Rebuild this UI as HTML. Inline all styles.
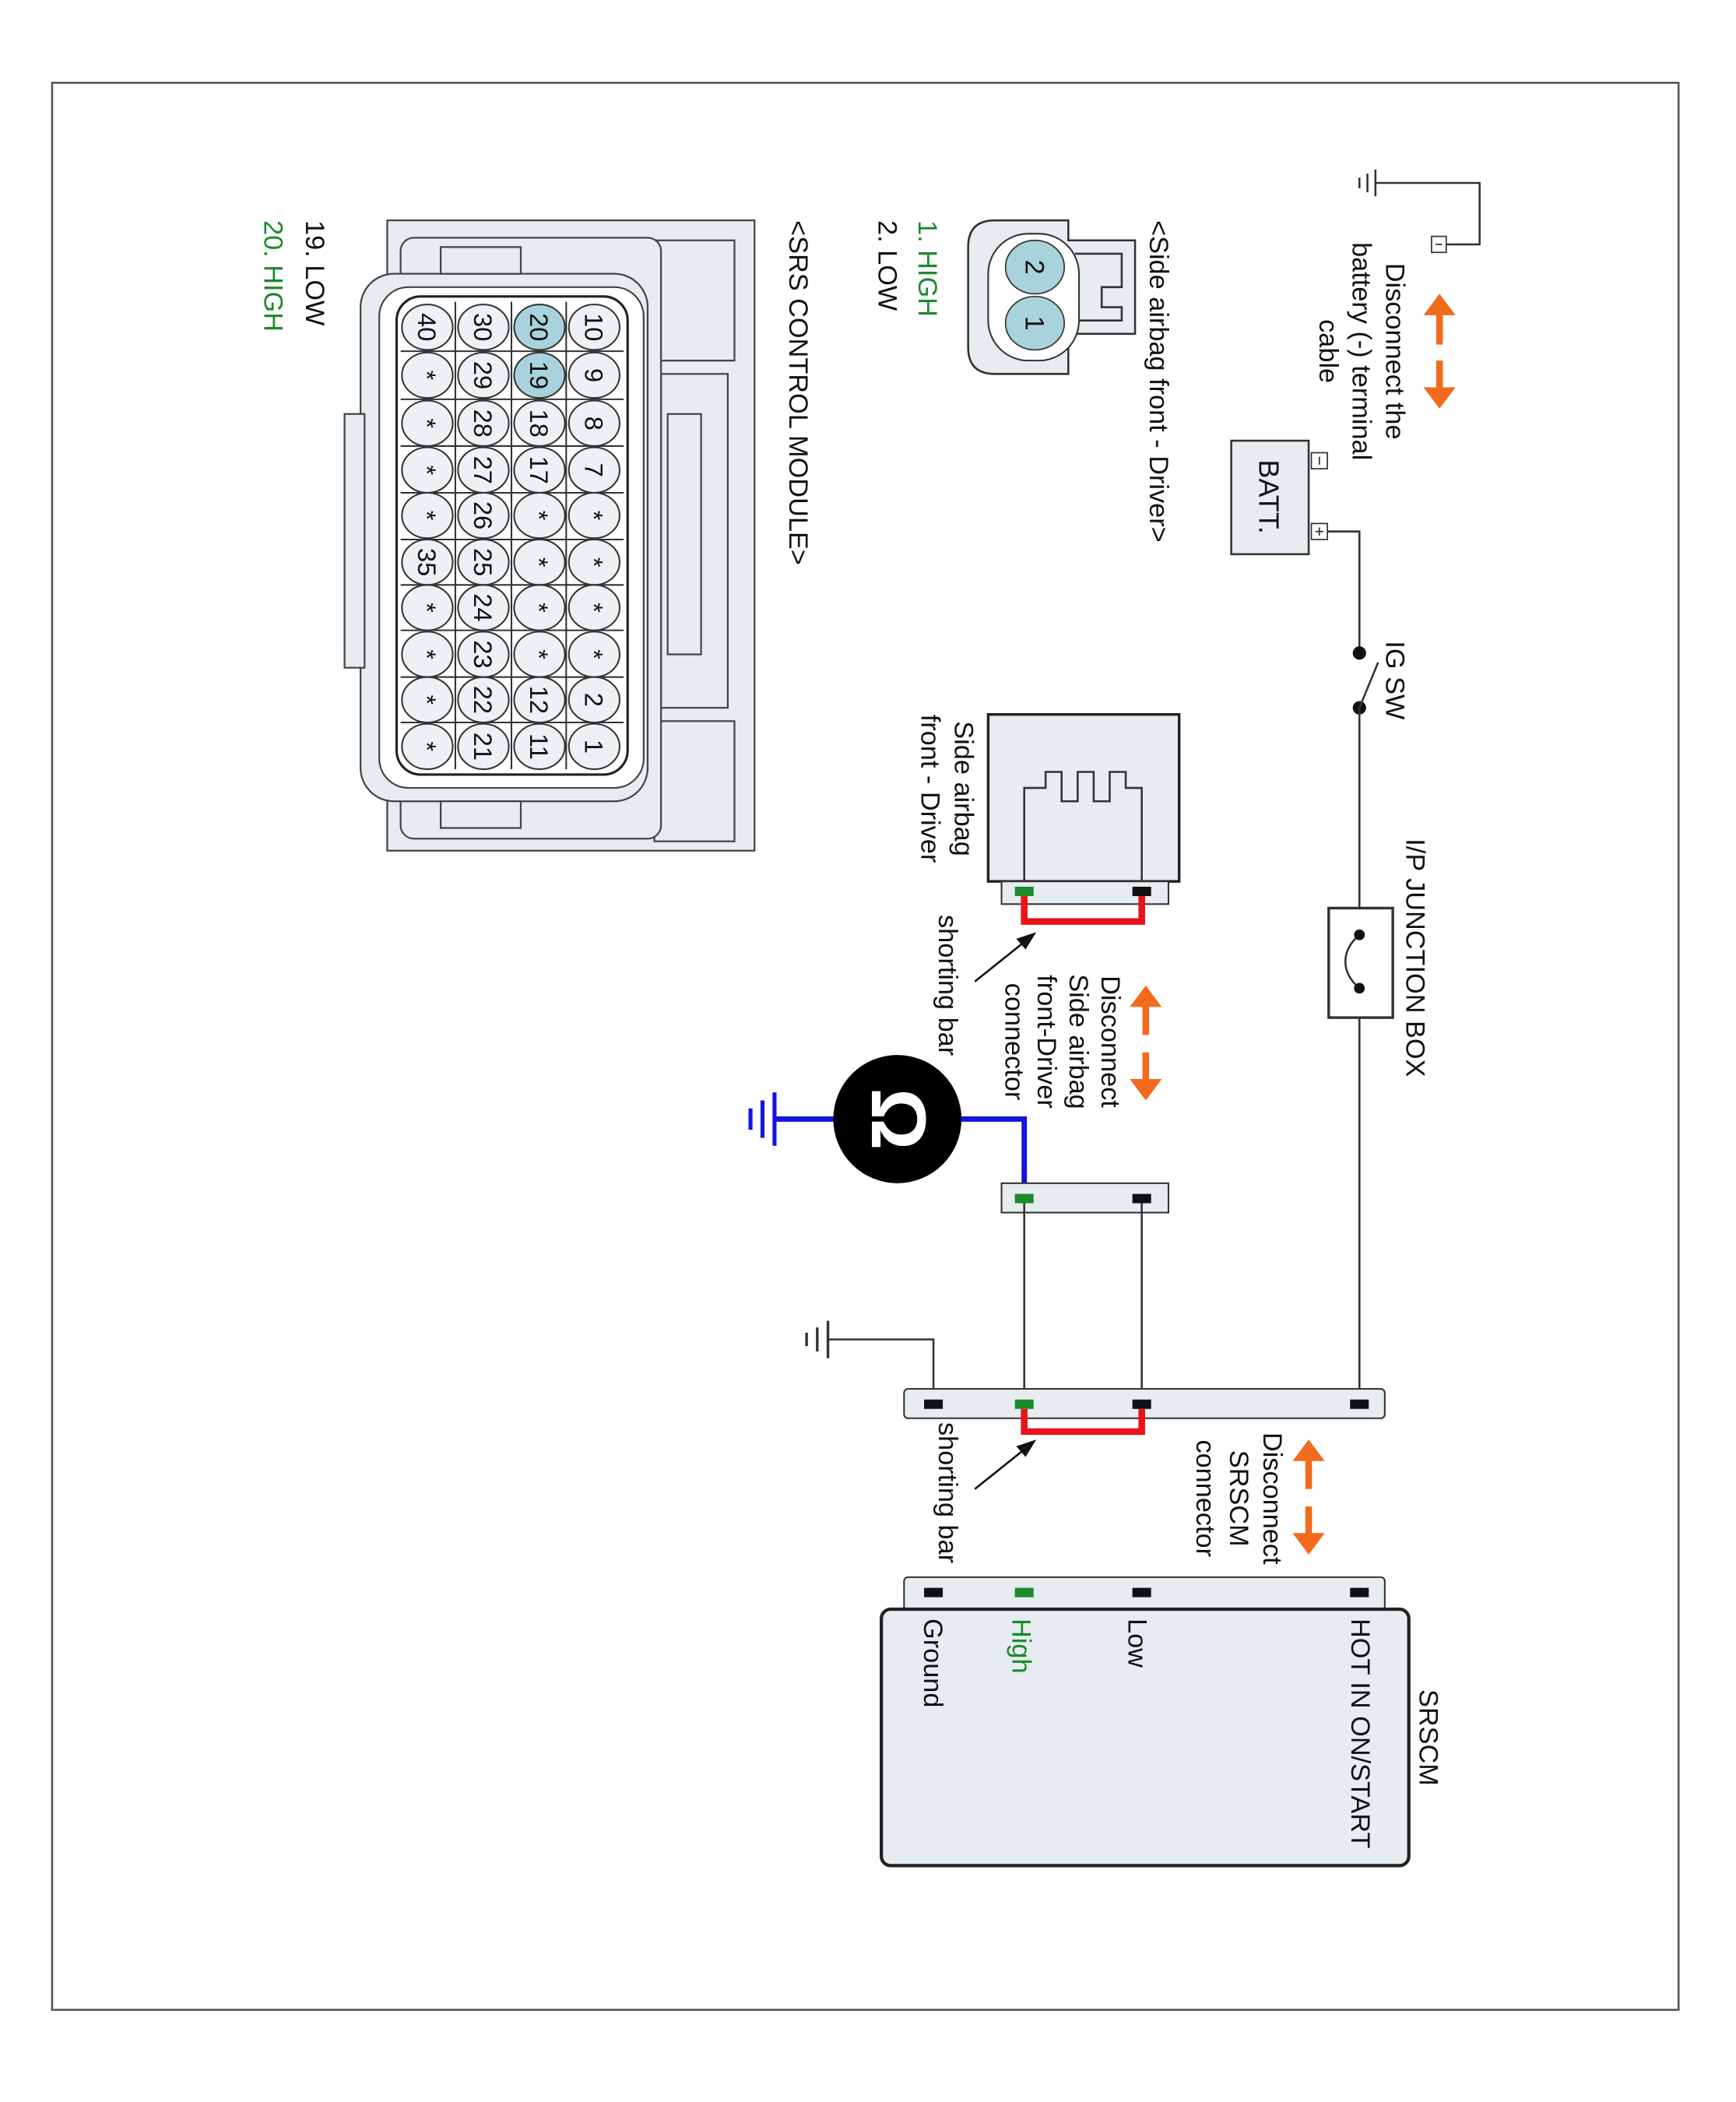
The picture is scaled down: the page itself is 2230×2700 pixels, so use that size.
<!DOCTYPE html>
<html><head><meta charset="utf-8"><style>html,body{margin:0;padding:0;background:#fff}svg{display:block}</style></head>
<body>
<svg width="2230" height="2700" viewBox="0 0 1300 1574" xmlns="http://www.w3.org/2000/svg" font-family="Liberation Sans, sans-serif">
<rect x="39" y="62" width="1218" height="1443" fill="#fff" stroke="#555" stroke-width="1.5"/>
<g font-size="20" fill="#111">
<!-- battery cable -->
<polyline points="1030,137 1108,137 1108,183 1083,183" fill="none" stroke="#333" stroke-width="1.5"/>
<rect x="1072" y="177" width="11" height="12" fill="#fff" stroke="#333"/>
<line x1="1075" y1="183" x2="1080" y2="183" stroke="#333"/>
<g stroke="#333" stroke-width="1.5"><line x1="1030" y1="127" x2="1030" y2="147"/><line x1="1024" y1="130" x2="1024" y2="144"/><line x1="1018" y1="133" x2="1018" y2="141"/></g>
<text transform="translate(1038,263) rotate(90)" text-anchor="middle">Disconnect the</text>
<text transform="translate(1013,263) rotate(90)" text-anchor="middle">battery (-) terminal</text>
<text transform="translate(988,263) rotate(90)" text-anchor="middle">cable</text>
<!-- orange arrows -->
<g fill="#f26a1b" stroke="#f26a1b" stroke-width="5">
<line x1="1078" y1="232" x2="1078" y2="258"/><polygon stroke="none" points="1066,236 1090,236 1078,220"/>
<line x1="1078" y1="270" x2="1078" y2="294"/><polygon stroke="none" points="1066,290 1090,290 1078,306"/>
<line x1="980" y1="1090" x2="980" y2="1115"/><polygon stroke="none" points="968,1094 992,1094 980,1078"/>
<line x1="980" y1="1128" x2="980" y2="1152"/><polygon stroke="none" points="968,1148 992,1148 980,1164"/>
<line x1="858" y1="750" x2="858" y2="775"/><polygon stroke="none" points="846,754 870,754 858,738"/>
<line x1="858" y1="788" x2="858" y2="812"/><polygon stroke="none" points="846,808 870,808 858,824"/>
</g>
<!-- battery -->
<rect x="922" y="330" width="58" height="85" fill="#e6ecef" stroke="#333" stroke-width="1.5"/>
<text transform="translate(943,372) rotate(90)" text-anchor="middle" font-size="21">BATT.</text>
<rect x="982" y="339" width="12" height="12" fill="#fff" stroke="#333"/><line x1="988" y1="342" x2="988" y2="348" stroke="#333"/>
<rect x="982" y="392" width="12" height="12" fill="#fff" stroke="#333"/><line x1="985" y1="398" x2="991" y2="398" stroke="#333"/><line x1="988" y1="395" x2="988" y2="401" stroke="#333"/>
<polyline points="994,398 1018,398 1018,489" fill="none" stroke="#333" stroke-width="1.5"/>
<!-- IG SW -->
<circle cx="1018" cy="489" r="5" fill="#111"/><circle cx="1018" cy="530" r="5" fill="#111"/>
<line x1="1018" y1="530" x2="1032" y2="496" stroke="#333" stroke-width="1.5"/>
<text transform="translate(1038,480) rotate(90)">IG SW</text>
<line x1="1018" y1="530" x2="1018" y2="1051" stroke="#333" stroke-width="1.5"/>
<!-- fuse -->
<rect x="995" y="680" width="48" height="82" fill="#fff" stroke="#333" stroke-width="2"/>
<path d="M1018,700 C1004,712 1004,728 1018,740" fill="none" stroke="#333" stroke-width="1.5"/>
<circle cx="1018" cy="700" r="4" fill="#111"/><circle cx="1018" cy="740" r="4" fill="#111"/>
<text transform="translate(1053,628) rotate(90)">I/P JUNCTION BOX</text>
<!-- side airbag connector -->
<rect x="740" y="535" width="143" height="125" fill="#e6ecef" stroke="#222" stroke-width="2"/>
<polyline points="767,660 767,590 783,590 783,578 795,578 795,600 807,600 807,578 819,578 819,600 831,600 831,578 843,578 843,590 855,590 855,660" fill="none" stroke="#333" stroke-width="1.5"/>
<rect x="750" y="660" width="125" height="17" fill="#e6ecef" stroke="#333" stroke-width="1.2"/>
<rect x="760" y="664" width="14" height="7" fill="#1a8a2a"/><rect x="848" y="664" width="14" height="7" fill="#111"/>
<polyline points="767,671 767,690 855,690 855,671" fill="none" stroke="#e8141a" stroke-width="5"/>
<text transform="translate(715,540) rotate(90)">Side airbag</text>
<text transform="translate(690,535) rotate(90)">front - Driver</text>
<text transform="translate(703,685) rotate(90)">shorting bar</text>
<line x1="730" y1="735" x2="770" y2="703" stroke="#111" stroke-width="1.5"/><polygon points="776,698 761,703 768,711" fill="#111"/>
<text transform="translate(825,780) rotate(90)" text-anchor="middle">Disconnect</text>
<text transform="translate(801,780) rotate(90)" text-anchor="middle">Side airbag</text>
<text transform="translate(777,780) rotate(90)" text-anchor="middle">front-Driver</text>
<text transform="translate(753,780) rotate(90)" text-anchor="middle">connector</text>
<!-- ohmmeter -->
<polyline points="767,897 767,838 710,838" fill="none" stroke="#1414e0" stroke-width="4"/>
<line x1="630" y1="838" x2="580" y2="838" stroke="#1414e0" stroke-width="4"/>
<g stroke="#1414e0" stroke-width="3"><line x1="580" y1="818" x2="580" y2="858"/><line x1="571" y1="824" x2="571" y2="852"/><line x1="562" y1="830" x2="562" y2="846"/></g>
<circle cx="672" cy="838" r="48" fill="#000"/>
<text transform="translate(653,838) rotate(90)" text-anchor="middle" fill="#fff" font-size="58" font-weight="bold">Ω</text>
<!-- small connector -->
<rect x="750" y="886" width="125" height="22" fill="#e6ecef" stroke="#333" stroke-width="1.2"/>
<rect x="760" y="894" width="14" height="7" fill="#1a8a2a"/><rect x="848" y="894" width="14" height="7" fill="#111"/>
<line x1="767" y1="901" x2="767" y2="1051" stroke="#333" stroke-width="1.5"/>
<line x1="855" y1="901" x2="855" y2="1051" stroke="#333" stroke-width="1.5"/>
<!-- ground wire -->
<polyline points="699,1051 699,1003 620,1003" fill="none" stroke="#333" stroke-width="1.5"/>
<g stroke="#333" stroke-width="2"><line x1="620" y1="989" x2="620" y2="1017"/><line x1="612" y1="994" x2="612" y2="1012"/><line x1="604" y1="998" x2="604" y2="1008"/></g>
<!-- mid connector -->
<rect x="677" y="1040" width="360" height="22" rx="3" fill="#e6ecef" stroke="#333" stroke-width="1.2"/>
<rect x="692" y="1048" width="14" height="7" fill="#111"/><rect x="760" y="1048" width="14" height="7" fill="#1a8a2a"/><rect x="848" y="1048" width="14" height="7" fill="#111"/><rect x="1011" y="1048" width="14" height="7" fill="#111"/>
<polyline points="767,1055 767,1072 855,1072 855,1055" fill="none" stroke="#e8141a" stroke-width="5"/>
<text transform="translate(703,1065) rotate(90)">shorting bar</text>
<line x1="730" y1="1115" x2="770" y2="1083" stroke="#111" stroke-width="1.5"/><polygon points="776,1078 761,1083 768,1091" fill="#111"/>
<text transform="translate(946,1122) rotate(90)" text-anchor="middle">Disconnect</text>
<text transform="translate(921,1122) rotate(90)" text-anchor="middle">SRSCM</text>
<text transform="translate(896,1122) rotate(90)" text-anchor="middle">connector</text>
<!-- SRSCM -->
<rect x="677" y="1181" width="360" height="26" rx="3" fill="#e6ecef" stroke="#333" stroke-width="1.2"/>
<rect x="692" y="1189" width="14" height="7" fill="#111"/><rect x="760" y="1189" width="14" height="7" fill="#1a8a2a"/><rect x="848" y="1189" width="14" height="7" fill="#111"/><rect x="1011" y="1189" width="14" height="7" fill="#111"/>
<rect x="660" y="1205" width="395" height="192" rx="7" fill="#e6ecef" stroke="#222" stroke-width="2.5"/>
<text transform="translate(1012,1212) rotate(90)">HOT IN ON/START</text>
<text transform="translate(845,1212) rotate(90)">Low</text>
<text transform="translate(758,1212) rotate(90)" fill="#1a8a2a">High</text>
<text transform="translate(692,1212) rotate(90)">Ground</text>
<text transform="translate(1063,1265) rotate(90)">SRSCM</text>
<!-- side airbag legend -->
<text transform="translate(861,165) rotate(90)">&lt;Side airbag front - Driver&gt;</text>
<text transform="translate(688,165) rotate(90)" fill="#1a8a2a">1. HIGH</text>
<text transform="translate(658,165) rotate(90)">2. LOW</text>
<path d="M745,165 L800,165 L800,180 L850,180 L850,250 L800,250 L800,280 L745,280 Q725,280 725,260 L725,185 Q725,165 745,165 Z" fill="#e6ecef" stroke="#333" stroke-width="1.5"/>
<polyline points="805,190 840,190 840,215 825,215 825,230 840,230 840,240 805,240" fill="none" stroke="#333" stroke-width="1.5"/>
<rect x="740" y="175" width="68" height="95" rx="30" fill="#fff" stroke="#333" stroke-width="1.2"/>
<ellipse cx="775" cy="200" rx="22" ry="20" fill="#a9d3dc" stroke="#333"/>
<ellipse cx="775" cy="242" rx="22" ry="20" fill="#a9d3dc" stroke="#333"/>
<text transform="translate(768,200) rotate(90)" text-anchor="middle">2</text>
<text transform="translate(768,242) rotate(90)" text-anchor="middle">1</text>
<!-- SRS control module -->
<text transform="translate(591,165) rotate(90)">&lt;SRS CONTROL MODULE&gt;</text>
<text transform="translate(229,165) rotate(90)">19. LOW</text>
<text transform="translate(198,165) rotate(90)" fill="#1a8a2a">20. HIGH</text>
<g fill="#e6ecef" stroke="#444" stroke-width="1.3">
<rect x="290" y="165" width="275" height="472" fill="#e6ecef"/>
<rect x="490" y="180" width="60" height="90"/><rect x="490" y="540" width="60" height="90"/>
<rect x="495" y="280" width="50" height="250"/><rect x="500" y="310" width="25" height="180"/>
<rect x="300" y="178" width="195" height="450" rx="10" fill="#e6ecef"/>
<rect x="270" y="205" width="215" height="395" rx="25" fill="#e6ecef"/>
<rect x="258" y="310" width="15" height="190"/>
<rect x="330" y="185" width="60" height="20"/><rect x="330" y="600" width="60" height="20"/>
<rect x="284" y="215" width="198" height="375" rx="22" fill="#fff"/>
<rect x="297" y="222" width="173" height="358" rx="18" fill="#fff" stroke="#222" stroke-width="1.8"/>
</g>
<g stroke="#333" stroke-width="1.2">
<line x1="424" y1="226" x2="424" y2="576"/><line x1="383" y1="226" x2="383" y2="576"/><line x1="341" y1="226" x2="341" y2="576"/>
<line x1="300" y1="263" x2="467" y2="263"/><line x1="300" y1="299" x2="467" y2="299"/><line x1="300" y1="334" x2="467" y2="334"/><line x1="300" y1="369" x2="467" y2="369"/><line x1="300" y1="404" x2="467" y2="404"/><line x1="300" y1="438" x2="467" y2="438"/><line x1="300" y1="472" x2="467" y2="472"/><line x1="300" y1="507" x2="467" y2="507"/><line x1="300" y1="541" x2="467" y2="541"/>
</g>
<g stroke="#333" stroke-width="1.2" fill="#eef1f3">
<ellipse cx="445" cy="245" rx="19" ry="17"/><ellipse cx="445" cy="281" rx="19" ry="17"/><ellipse cx="445" cy="317" rx="19" ry="17"/><ellipse cx="445" cy="352" rx="19" ry="17"/><ellipse cx="445" cy="386" rx="19" ry="17"/><ellipse cx="445" cy="421" rx="19" ry="17"/><ellipse cx="445" cy="455" rx="19" ry="17"/><ellipse cx="445" cy="490" rx="19" ry="17"/><ellipse cx="445" cy="524" rx="19" ry="17"/><ellipse cx="445" cy="559" rx="19" ry="17"/>
<ellipse cx="404" cy="245" rx="19" ry="17" fill="#a9d3dc"/><ellipse cx="404" cy="281" rx="19" ry="17" fill="#a9d3dc"/><ellipse cx="404" cy="317" rx="19" ry="17"/><ellipse cx="404" cy="352" rx="19" ry="17"/><ellipse cx="404" cy="386" rx="19" ry="17"/><ellipse cx="404" cy="421" rx="19" ry="17"/><ellipse cx="404" cy="455" rx="19" ry="17"/><ellipse cx="404" cy="490" rx="19" ry="17"/><ellipse cx="404" cy="524" rx="19" ry="17"/><ellipse cx="404" cy="559" rx="19" ry="17"/>
<ellipse cx="362" cy="245" rx="19" ry="17"/><ellipse cx="362" cy="281" rx="19" ry="17"/><ellipse cx="362" cy="317" rx="19" ry="17"/><ellipse cx="362" cy="352" rx="19" ry="17"/><ellipse cx="362" cy="386" rx="19" ry="17"/><ellipse cx="362" cy="421" rx="19" ry="17"/><ellipse cx="362" cy="455" rx="19" ry="17"/><ellipse cx="362" cy="490" rx="19" ry="17"/><ellipse cx="362" cy="524" rx="19" ry="17"/><ellipse cx="362" cy="559" rx="19" ry="17"/>
<ellipse cx="320" cy="245" rx="19" ry="17"/><ellipse cx="320" cy="281" rx="19" ry="17"/><ellipse cx="320" cy="317" rx="19" ry="17"/><ellipse cx="320" cy="352" rx="19" ry="17"/><ellipse cx="320" cy="386" rx="19" ry="17"/><ellipse cx="320" cy="421" rx="19" ry="17"/><ellipse cx="320" cy="455" rx="19" ry="17"/><ellipse cx="320" cy="490" rx="19" ry="17"/><ellipse cx="320" cy="524" rx="19" ry="17"/><ellipse cx="320" cy="559" rx="19" ry="17"/>
</g>
<g font-size="19" text-anchor="middle">
<text transform="translate(438,245) rotate(90)">10</text><text transform="translate(438,281) rotate(90)">9</text><text transform="translate(438,317) rotate(90)">8</text><text transform="translate(438,352) rotate(90)">7</text><text transform="translate(438,386) rotate(90)">*</text><text transform="translate(438,421) rotate(90)">*</text><text transform="translate(438,455) rotate(90)">*</text><text transform="translate(438,490) rotate(90)">*</text><text transform="translate(438,524) rotate(90)">2</text><text transform="translate(438,559) rotate(90)">1</text>
<text transform="translate(397,245) rotate(90)">20</text><text transform="translate(397,281) rotate(90)">19</text><text transform="translate(397,317) rotate(90)">18</text><text transform="translate(397,352) rotate(90)">17</text><text transform="translate(397,386) rotate(90)">*</text><text transform="translate(397,421) rotate(90)">*</text><text transform="translate(397,455) rotate(90)">*</text><text transform="translate(397,490) rotate(90)">*</text><text transform="translate(397,524) rotate(90)">12</text><text transform="translate(397,559) rotate(90)">11</text>
<text transform="translate(355,245) rotate(90)">30</text><text transform="translate(355,281) rotate(90)">29</text><text transform="translate(355,317) rotate(90)">28</text><text transform="translate(355,352) rotate(90)">27</text><text transform="translate(355,386) rotate(90)">26</text><text transform="translate(355,421) rotate(90)">25</text><text transform="translate(355,455) rotate(90)">24</text><text transform="translate(355,490) rotate(90)">23</text><text transform="translate(355,524) rotate(90)">22</text><text transform="translate(355,559) rotate(90)">21</text>
<text transform="translate(313,245) rotate(90)">40</text><text transform="translate(313,281) rotate(90)">*</text><text transform="translate(313,317) rotate(90)">*</text><text transform="translate(313,352) rotate(90)">*</text><text transform="translate(313,386) rotate(90)">*</text><text transform="translate(313,421) rotate(90)">35</text><text transform="translate(313,455) rotate(90)">*</text><text transform="translate(313,490) rotate(90)">*</text><text transform="translate(313,524) rotate(90)">*</text><text transform="translate(313,559) rotate(90)">*</text>
</g>
</g>
</svg>
</body></html>
